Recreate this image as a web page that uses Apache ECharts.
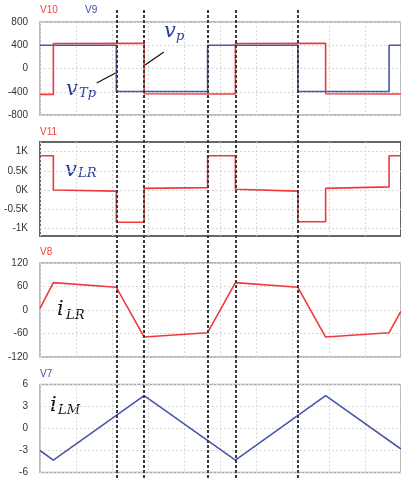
<!DOCTYPE html>
<html><head><meta charset="utf-8">
<script src="https://cdn.jsdelivr.net/npm/echarts@6/dist/echarts.min.js"></script>
<style>html,body{margin:0;padding:0;background:#fff}#c{width:401px;height:478px}</style>
</head><body><div id="c"></div>
<script>
// time axis in grid units (10 divisions)
const switchTimes = [2.115, 2.885, 4.643, 5.412, 7.143];
const v10 = [[0,-445],[0.37,-445],[0.37,430],[2.885,435],[2.885,-435],[5.412,-440],[5.412,430],[7.912,435],[7.912,-435],[10,-440]];
const v9  = [[0,400],[2.115,400],[2.115,-395],[4.643,-395],[4.643,400],[7.143,400],[7.143,-395],[9.67,-395],[9.67,400],[10,400]];
const v11 = [[0,0.89],[0.37,0.89],[0.37,0],[2.115,-0.03],[2.115,-0.84],[2.885,-0.84],[2.885,0.04],[4.643,0.06],[4.643,0.89],[5.412,0.89],[5.412,0.02],[7.143,-0.03],[7.143,-0.83],[7.912,-0.83],[7.912,0.04],[9.67,0.08],[9.67,0.89],[10,0.89]];
const v8  = [[0,4],[0.37,70],[2.115,58],[2.885,-69],[4.643,-58],[5.412,70],[7.143,58],[7.912,-69],[9.67,-58],[10,-3]];
const v7  = [[0,-3],[0.37,-4.3],[2.885,4.47],[5.412,-4.3],[7.912,4.47],[10,-2.8]];
const ticksV11 = [-1,-0.5,0,0.5,1];
const leaderP  = [[3.43,284],[2.91,60]];
const leaderTp = [[1.57,-250],[2.09,-77]];

const RED = '#f0393c', BLUE = '#4756ad', MATHBLUE = '#2b3c9c';
const chart = echarts.init(document.getElementById('c'));
const grids = [
  {left:40, width:364, top:22, height:93, show:true, borderColor:'#a8a8a8', borderWidth:1.5},
  {left:40, width:364, top:142, height:94, show:true, borderColor:'#666', borderWidth:2},
  {left:40, width:364, top:263, height:94, show:true, borderColor:'#a8a8a8', borderWidth:1.5},
  {left:40, width:364, top:384.5, height:88, show:true, borderColor:'#a8a8a8', borderWidth:1.5},
  {left:40, width:364, top:8, bottom:0}
];
const gridLine = {show:true, lineStyle:{color:'#d8d8d8', type:[2,2], width:1}};
const xAxes = [0,1,2,3].map(i => ({
  type:'value', gridIndex:i, min:0, max:10, interval:1,
  axisLine:{show:false}, axisTick:{show:false}, axisLabel:{show:false}, splitLine:gridLine
}));
xAxes.push({type:'value', gridIndex:4, min:0, max:10, show:false});
const lbl = {color:'#333', fontSize:10, fontFamily:'Liberation Sans', margin:12};
const yAxes = [
  {type:'value', gridIndex:0, min:-800, max:800, interval:400, axisLabel:lbl, splitLine:gridLine,
   axisLine:{show:false}, axisTick:{show:false}},
  {type:'value', gridIndex:1, min:-1.2, max:1.25,
   axisLabel:Object.assign({}, lbl, {customValues:ticksV11, formatter:v => v + 'K'}),
   axisTick:{show:false, customValues:ticksV11}, splitLine:gridLine, axisLine:{show:false}},
  {type:'value', gridIndex:2, min:-120, max:120, interval:60, axisLabel:lbl, splitLine:gridLine,
   axisLine:{show:false}, axisTick:{show:false}},
  {type:'value', gridIndex:3, min:-6, max:6, interval:3, axisLabel:lbl, splitLine:gridLine,
   axisLine:{show:false}, axisTick:{show:false}},
  {type:'value', gridIndex:4, min:0, max:1, show:false}
];
function line(data, i, color){
  return {type:'line', xAxisIndex:i, yAxisIndex:i, data:data, showSymbol:false, symbol:'none',
    lineStyle:{color:color, width:1.6}, animation:false, silent:true};
}
const s9 = line(v9, 0, BLUE);
s9.markLine = {silent:true, symbol:'none', animation:false, label:{show:false},
  lineStyle:{color:'#111', type:'solid', width:1.2},
  data:[
    [{coord:leaderP[0]},{coord:leaderP[1]}],
    [{coord:leaderTp[0]},{coord:leaderTp[1]}]
  ]};
const dash = {type:'line', xAxisIndex:4, yAxisIndex:4, data:[[0,0]], symbol:'none', lineStyle:{opacity:0},
  animation:false, silent:true,
  markLine:{silent:true, symbol:'none', animation:false, label:{show:false},
    lineStyle:{color:'#3a3a3a', type:[3,2], width:2},
    data: switchTimes.map(t => ({xAxis:t}))}};

function txt(text, x, y, font, fill){
  return {type:'text', x:x, y:y, silent:true, style:{text:text, font:font, fill:fill, verticalAlign:'middle', align:'left'}};
}
const SF = 'italic 21px "DejaVu Serif"', SS = 'italic 13px "DejaVu Serif"';
const nameFont = '10px "Liberation Sans"';
chart.setOption({
  animation:false,
  grid:grids, xAxis:xAxes, yAxis:yAxes,
  series:[s9, line(v10,0,RED), line(v11,1,RED), line(v8,2,RED), line(v7,3,BLUE), dash],
  graphic:[
    txt('V10', 40, 10, nameFont, '#ff3b3b'),
    txt('V9', 85, 10, nameFont, '#3d4ea8'),
    txt('V11', 40, 132, nameFont, '#ff3b3b'),
    txt('V8', 40, 252, nameFont, '#ff3b3b'),
    txt('V7', 40, 374, nameFont, '#3d4ea8'),
    txt('v', 164, 32, SF, MATHBLUE), txt('p', 176, 37, SS, MATHBLUE),
    txt('v', 66, 90, SF, MATHBLUE), txt('Tp', 79, 94, SS, MATHBLUE),
    txt('v', 65, 171, SF, MATHBLUE), txt('LR', 78, 174, SS, MATHBLUE),
    txt('i', 57, 310, SF, '#111'), txt('LR', 66, 315.5, SS, '#111'),
    txt('i', 50, 406, SF, '#111'), txt('LM', 58, 410.5, SS, '#111')
  ]
});
</script></body></html>
